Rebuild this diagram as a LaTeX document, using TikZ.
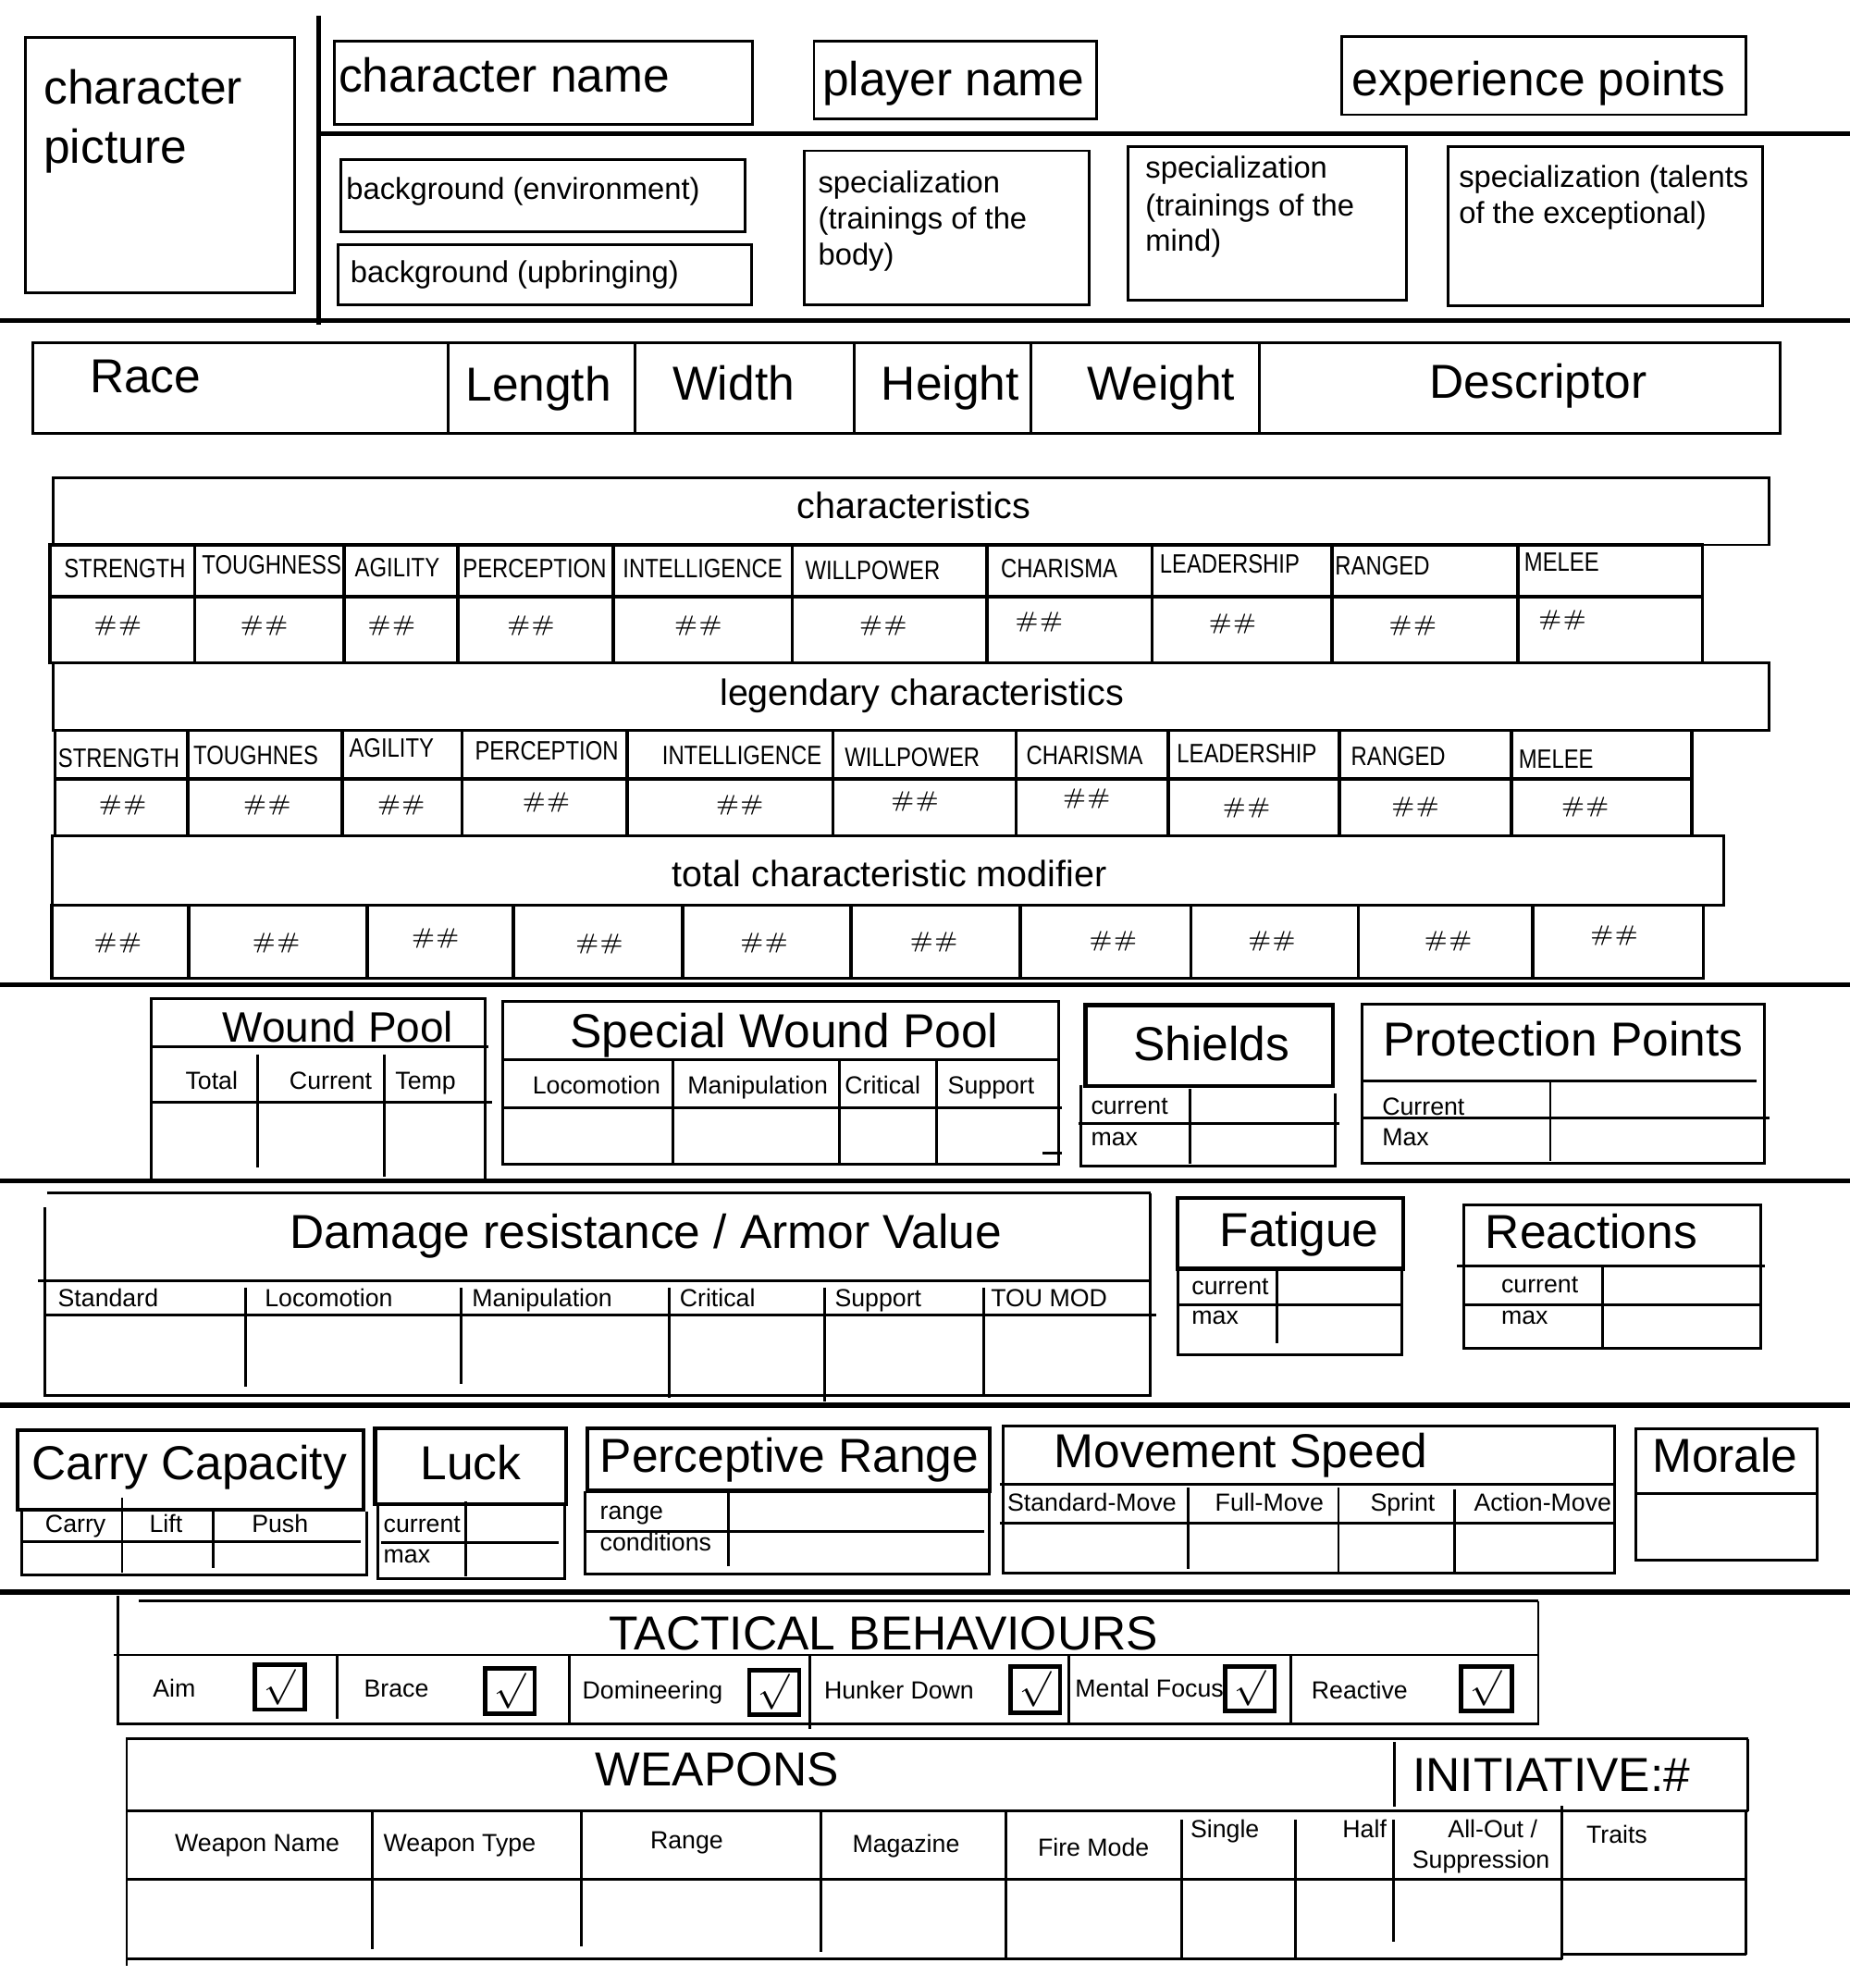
\documentclass[tikz,border=0pt]{standalone}
\usepackage{fontspec}
\setmainfont{Liberation Sans}
\newfontfamily\narrowfont{Liberation Sans}[FakeStretch=0.83]
\newcommand{\fbig}{\fontsize{10.7pt}{12pt}\selectfont}
\newcommand{\fwound}{\fontsize{9.55pt}{11pt}\selectfont}
\newcommand{\fhead}{\fontsize{8.2pt}{10pt}\selectfont}
\newcommand{\fmid}{\fontsize{6.8pt}{8pt}\selectfont}
\newcommand{\fsmall}{\fontsize{5.55pt}{6.5pt}\selectfont}
\newcommand{\fchar}{\narrowfont\fontsize{5.97pt}{7pt}\selectfont}
\newcommand{\fnum}{\fontfamily{lmr}\fontsize{5pt}{6pt}\selectfont}
\newcommand{\fcheck}{\fontsize{8.3pt}{9pt}\selectfont}
\usetikzlibrary{positioning}
\begin{document}
\begin{tikzpicture}[x=0.1mm, y=-0.1mm, line width=0.6pt]
	\tikzstyle{every node}=[inner sep=0pt, anchor=base west, font=\fsmall]
	\tikzstyle{sep}=[line width=1.15pt]
	\tikzstyle{titlebox}=[line width=0.95pt]
	\tikzstyle{grid}=[line width=0.75pt]
	\tikzstyle{mid}=[anchor=base]
	\useasboundingbox (0, 0) rectangle (1460, 1568.8);

	% header block
	\draw (20, 29.5) rectangle (232.8, 231.2);
	\node[font=\fbig] (picA) at (33.5, 82) {character};
	\node[font=\fbig] (picB) at (33.5, 129) {picture};
	\draw[sep] (251.4, 12.7) -- (251.4, 256.4);
	\draw[sep] (251.4, 105.6) -- (1460, 105.6);
	\draw[sep] (0, 253) -- (1460, 253);
	\draw (264, 32.5) rectangle (594, 98.2);
	\node[font=\fbig] (cname) at (266.3, 73) {character name};
	\draw (642.4, 32.5) rectangle (865.7, 93.8);
	\node[font=\fbig] (pname) at (648, 75.4) {player name};
	\draw (1059, 28.8) rectangle (1378, 90.5);
	\node[font=\fbig] (xp) at (1066, 75.4) {experience points};
	\draw (269, 126) rectangle (588, 182.6);
	\node[font=\fmid] (bgenv) at (272.3, 157.5) {background (environment)};
	\draw (266.7, 193) rectangle (593, 240.6);
	\node[font=\fmid] (bgup) at (275.6, 222.9) {background (upbringing)};
	\draw (634.5, 119) rectangle (859.4, 240.6);
	\node[font=\fmid] (bodyA) at (644.7, 152.5) {specialization};
	\node[font=\fmid] (bodyB) at (644.7, 181) {(trainings of the};
	\node[font=\fmid] (bodyC) at (644.7, 209.5) {body)};
	\draw (890, 116) rectangle (1109.8, 237);
	\node[font=\fmid] (mindA) at (903, 140.8) {specialization};
	\node[font=\fmid] (mindB) at (903, 170.3) {(trainings of the};
	\node[font=\fmid] (mindC) at (903, 198.4) {mind)};
	\draw (1142.5, 116) rectangle (1391, 241);
	\node[font=\fmid] (talA) at (1150.4, 147.5) {specialization (talents};
	\node[font=\fmid] (talB) at (1150.4, 176) {of the exceptional)};

	% race row
	\draw (25.6, 270.5) rectangle (1405, 341.8);
	\foreach \x in {353.8, 501.4, 674, 813.7, 993.9}
		\draw (\x, 271) -- (\x, 341);
	\node[font=\fbig] (race) at (69.8, 310) {Race};
	\node[mid, font=\fbig] (len) at (425, 316.8) {Length};
	\node[mid, font=\fbig] (wid) at (579, 316) {Width};
	\node[mid, font=\fbig] (hei) at (750, 316) {Height};
	\node[mid, font=\fbig] (wei) at (916.6, 316) {Weight};
	\node[mid, font=\fbig] (desc) at (1214, 314) {Descriptor};

	% characteristics
	\draw (41.9, 377) rectangle (1396.4, 430);
	\node[mid, font=\fhead] (chr) at (721, 409) {characteristics};
	\draw[grid] (39.6, 430) rectangle (1343.5, 523);
	\draw[grid] (39.6, 471) -- (1343.5, 471);
	\foreach \x in {153.6, 271.4, 361.2, 484.2, 625.2, 778.9, 909.1, 1051, 1197.8}
		\draw[grid] (\x, 430) -- (\x, 523);
	\foreach \x/\y/\t [count=\i] in {98.5/456/STRENGTH, 214.4/453/TOUGHNESS, 313.5/455/AGILITY, 421.9/456/PERCEPTION, 554.5/456/INTELLIGENCE, 688.7/457/WILLPOWER, 836/456/CHARISMA, 970.5/452/LEADERSHIP, 1091/454/RANGED, 1232.5/451/MELEE}
		\node[mid, font=\fchar] (chlab\i) at (\x, \y) {\t};
	\foreach \x/\y [count=\i] in {93/498, 208.5/498, 309/498, 419/498, 551/498, 697/498, 820/495, 972.7/496.5, 1115/498.5, 1233/494}
		\node[mid, font=\fnum] (chval\i) at (\x, \y) {\#\#};

	% legendary characteristics
	\draw (41.9, 523) rectangle (1396.4, 576.4);
	\node[mid, font=\fhead] (leg) at (727.5, 557) {legendary characteristics};
	\draw[grid] (43.3, 576.4) rectangle (1335, 659.6);
	\draw[grid] (43.3, 614.6) -- (1335, 614.6);
	\foreach \x in {148, 270, 364.5, 494.9, 657.3, 802, 922, 1057, 1193}
		\draw[grid] (\x, 576.4) -- (\x, 659.6);
	\foreach \x/\y/\t [count=\i] in {93.8/605.8/STRENGTH, 201.9/603.7/TOUGHNES, 309/597.6/AGILITY, 431.5/600/PERCEPTION, 585.5/603.7/INTELLIGENCE, 720/604.5/WILLPOWER, 856/603/CHARISMA, 984/602/LEADERSHIP, 1103.5/604/RANGED, 1228/606/MELEE}
		\node[mid, font=\fchar] (lglab\i) at (\x, \y) {\t};
	\foreach \x/\y [count=\i] in {96.8/640, 210.9/640, 316.6/640, 431/638, 583.8/640, 722/637, 857.5/634.6, 983.7/642, 1117/641, 1251/641}
		\node[mid, font=\fnum] (lgval\i) at (\x, \y) {\#\#};

	% total characteristic modifier
	\draw (41, 659.6) rectangle (1360.6, 714.4);
	\node[mid, font=\fhead] (tot) at (702, 700) {total characteristic modifier};
	\draw[grid] (41, 714.4) rectangle (1344.4, 772);
	\foreach \x in {149, 289.6, 405, 538.6, 671.8, 805, 940, 1072, 1209.5}
		\draw[grid] (\x, 714.4) -- (\x, 772);
	\foreach \x/\y [count=\i] in {93/748.5, 218/748.5, 343.6/745, 473/749, 603/748.5, 737/748, 878.4/747, 1003.7/747, 1142.9/747, 1273.9/743}
		\node[mid, font=\fnum] (totval\i) at (\x, \y) {\#\#};
	\draw[sep] (0, 777) -- (1460, 777);

	% wound pools, shields, protection
	\draw (119.6, 932) -- (119.6, 788) -- (383, 788) -- (383, 932);
	\draw (119.6, 826) -- (385.5, 826);
	\draw (119.6, 870) -- (388, 870);
	\draw (203, 832) -- (203, 921);
	\draw (303.5, 832) -- (303.5, 928.5);
	\node[font=\fwound] (wp) at (174.6, 822) {Wound Pool};
	\node[mid] (wpt) at (167, 859.5) {Total};
	\node[mid] (wpc) at (261, 859.5) {Current};
	\node (wptmp) at (311, 859.5) {Temp};

	\draw (397, 790.5) rectangle (835.6, 919);
	\draw (397, 836.5) -- (835.6, 836.5);
	\draw (397, 874.5) -- (838, 874.5);
	\foreach \x in {531, 662.4, 739.3}
		\draw (\x, 836.5) -- (\x, 919);
	\draw (823, 910) -- (838, 910);
	\node[font=\fbig] (swp) at (449, 827) {Special Wound Pool};
	\node[mid] (swl) at (470.8, 863) {Locomotion};
	\node[mid] (swm) at (598, 863) {Manipulation};
	\node (swc) at (665.7, 863) {Critical};
	\node (sws) at (747, 863) {Support};

	\draw[titlebox] (856.6, 793) rectangle (1052, 857);
	\node[mid, font=\fbig] (shd) at (956, 837) {Shields};
	\draw (853.3, 856) -- (853.3, 920) -- (1054, 920) -- (1054, 863);
	\draw (939.4, 859.5) -- (939.4, 918);
	\draw (851, 886.7) -- (1057, 886.7);
	\node (shdc) at (860, 879.6) {current};
	\node (shdm) at (860, 904) {max};

	\draw (1075, 792.6) rectangle (1392.3, 918);
	\draw (1075, 852.8) -- (1386, 852.8);
	\draw (1223.5, 852.8) -- (1223.5, 916);
	\draw (1075, 882.5) -- (1396.5, 882.5);
	\node[font=\fbig] (pp) at (1090.5, 833) {Protection Points};
	\node (ppc) at (1089.8, 880) {Current};
	\node (ppm) at (1089.8, 904) {Max};
	\draw[sep] (0, 932) -- (1460, 932);

	% damage resistance, fatigue, reactions
	\draw (37, 941.6) -- (908, 941.6);
	\draw (35.4, 953) -- (35.4, 1101) -- (908, 1101) -- (908, 941.6);
	\draw (30, 1011) -- (907.5, 1011);
	\draw (35.4, 1038) -- (912.5, 1038);
	\foreach \x/\e in {194/1094, 363.6/1092, 528.4/1103, 650.8/1105.6, 776.5/1101}
		\draw (\x, 1016) -- (\x, \e);
	\node[font=\fbig] (dr) at (228, 985) {Damage resistance / Armor Value};
	\node (drs) at (44.7, 1031) {Standard};
	\node (drl) at (208, 1031) {Locomotion};
	\node (drm) at (371.5, 1031) {Manipulation};
	\node (drc) at (535.4, 1031) {Critical};
	\node (drsu) at (657.8, 1031) {Support};
	\node (drt) at (781, 1031) {TOU MOD};

	\draw[titlebox] (929.4, 945.4) rectangle (1107.4, 1001);
	\node[font=\fbig] (fat) at (961.5, 983.4) {Fatigue};
	\draw (929.4, 1001) -- (929.4, 1069.3) -- (1106, 1069.3) -- (1106, 1001);
	\draw (1007.8, 1001) -- (1007.8, 1060);
	\draw (929.4, 1030) -- (1106, 1030);
	\node (fatc) at (939.5, 1021.5) {current};
	\node (fatm) at (939.5, 1045) {max};

	\draw (1154.9, 950.7) rectangle (1389.6, 1064);
	\draw (1150, 999) -- (1393, 999);
	\draw (1264.4, 999) -- (1264.4, 1064);
	\draw (1154.9, 1029.4) -- (1389.6, 1029.4);
	\node[font=\fbig] (rea) at (1171.3, 985) {Reactions};
	\node (reac) at (1183.8, 1020.5) {current};
	\node (ream) at (1183.8, 1045) {max};
	\draw[sep] (0, 1109) -- (1460, 1109);

	% carry, luck, perception, movement, morale
	\draw[titlebox] (14, 1128.6) rectangle (287, 1191.4);
	\node[mid, font=\fbig] (cc) at (149.4, 1167.5) {Carry Capacity};
	\draw (17.2, 1191) -- (17.2, 1242.6) -- (289.6, 1242.6) -- (289.6, 1192.7);
	\draw (17.2, 1216.8) -- (284.9, 1216.8);
	\draw (96.4, 1182) -- (96.4, 1241);
	\draw (168, 1192) -- (168, 1237);
	\node[mid] (ccc) at (59.6, 1209.6) {Carry};
	\node[mid] (ccl) at (131, 1209.6) {Lift};
	\node[mid] (ccp) at (221, 1209.6) {Push};

	\draw[titlebox] (296, 1127) rectangle (446.9, 1187);
	\node[mid, font=\fbig] (luck) at (371.5, 1167.5) {Luck};
	\draw (298, 1187) -- (298, 1246) -- (445.5, 1246) -- (445.5, 1187);
	\draw (367.8, 1185) -- (367.8, 1244);
	\draw (301, 1217) -- (441, 1217);
	\node (luckc) at (301.7, 1209.6) {current};
	\node (luckm) at (301.7, 1233.3) {max};

	\draw[titlebox] (463.7, 1127) rectangle (781, 1176.5);
	\node[font=\fbig] (pr) at (472.5, 1161.7) {Perceptive Range};
	\draw (461.8, 1176.5) -- (461.8, 1242) -- (781, 1242) -- (781, 1176.5);
	\draw (575, 1176.5) -- (575, 1236);
	\draw (463, 1208.5) -- (776.5, 1208.5);
	\node (prr) at (472.5, 1199) {range};
	\node (prc) at (472.5, 1224) {conditions};

	\draw (791.8, 1125.3) rectangle (1274.5, 1241.6);
	\draw (789, 1171.6) -- (1274.5, 1171.6);
	\draw (789, 1201.9) -- (1274.5, 1201.9);
	\draw (938, 1173.5) -- (938, 1238);
	\draw (1056.3, 1174) -- (1056.3, 1241.6);
	\draw (1148, 1175) -- (1148, 1241.6);
	\node[font=\fbig] (ms) at (831, 1158.4) {Movement Speed};
	\node[mid] (mss) at (861.7, 1192.3) {Standard-Move};
	\node[mid] (msf) at (1001.8, 1192.3) {Full-Move};
	\node[mid] (msp) at (1107, 1192.3) {Sprint};
	\node[mid] (msa) at (1217.5, 1192.3) {Action-Move};

	\draw (1291.2, 1127.7) rectangle (1433.8, 1231);
	\draw (1291.2, 1178.8) -- (1433.8, 1178.8);
	\node[mid, font=\fbig] (mor) at (1361.4, 1161.7) {Morale};
	\draw[sep] (0, 1256.3) -- (1460, 1256.3);

	% tactical behaviours
	\draw (109.4, 1263.3) -- (1214, 1263.3);
	\draw (93, 1259.6) -- (93, 1360.6) -- (1214, 1360.6) -- (1214, 1263.3);
	\draw (90, 1306) -- (1214, 1306);
	\foreach \x/\e in {266.3/1356, 449.2/1359, 639/1364.6, 843.8/1359, 1018.6/1360}
		\draw (\x, 1306) -- (\x, \e);
	\node[font=\fbig] (tac) at (479.5, 1301.9) {TACTICAL BEHAVIOURS};
	\node (aim) at (119.6, 1339.2) {Aim};
	\node (brace) at (286.3, 1339.2) {Brace};
	\node (dom) at (458.6, 1341) {Domineering};
	\node (hunk) at (649.4, 1341) {Hunker Down};
	\node (ment) at (847.5, 1339) {Mental Focus};
	\node (react) at (1034, 1341) {Reactive};
	\foreach \a/\b/\c/\d [count=\i] in {201/1313.5/240.7/1349, 383/1316.7/422/1352.3, 591.2/1318/630.7/1353, 797.4/1315/836.5/1351.5, 967/1315/1006/1350, 1153/1315/1193/1350} {
		\draw[titlebox] (\a, \b) rectangle (\c, \d);
		\node[anchor=center, font=\fcheck] (tick\i) at ({(\a+\c)/2}, {(\b+\d)/2}) {$\surd$};
	}

	% weapons
	\draw (101, 1372.3) -- (1379.4, 1372.3);
	\draw (100, 1371) -- (100, 1551);
	\draw (1379.4, 1372.3) -- (1379.4, 1429);
	\draw (100, 1429) -- (1379.4, 1429);
	\draw (1378, 1429) -- (1378, 1542.8);
	\draw (100, 1482.8) -- (1378, 1482.8);
	\draw (100, 1546) -- (1232.7, 1546);
	\draw (1232.7, 1542.2) -- (1378, 1542.2);
	\draw (1100.7, 1374.5) -- (1100.7, 1425.8);
	\foreach \x/\s/\e in {294/1429/1538, 458.6/1429/1535.6, 648/1429/1540, 793.6/1429/1546, 932.5/1436/1546, 1022.3/1436/1546, 1100/1436/1532, 1232.7/1425/1546}
		\draw (\x, \s) -- (\x, \e);
	\node[mid, font=\fbig] (wpn) at (566, 1409.2) {WEAPONS};
	\node[font=\fbig] (ini) at (1114, 1413.5) {INITIATIVE:\#};
	\node[mid] (wname) at (203, 1461) {Weapon Name};
	\node (wtype) at (301.7, 1461) {Weapon Type};
	\node[mid] (wrange) at (542, 1458.7) {Range};
	\node[mid] (wmag) at (715, 1461.5) {Magazine};
	\node[mid] (wfire) at (863, 1464.5) {Fire Mode};
	\node (wsing) at (938.5, 1450.5) {Single};
	\node[anchor=base east] (whalf) at (1095.3, 1450.5) {Half};
	\node[mid] (wallA) at (1178, 1450.5) {All-Out /};
	\node[mid] (wallB) at (1168.8, 1474.6) {Suppression};
	\node[mid] (wtrait) at (1276, 1454.4) {Traits};
\end{tikzpicture}
\end{document}
